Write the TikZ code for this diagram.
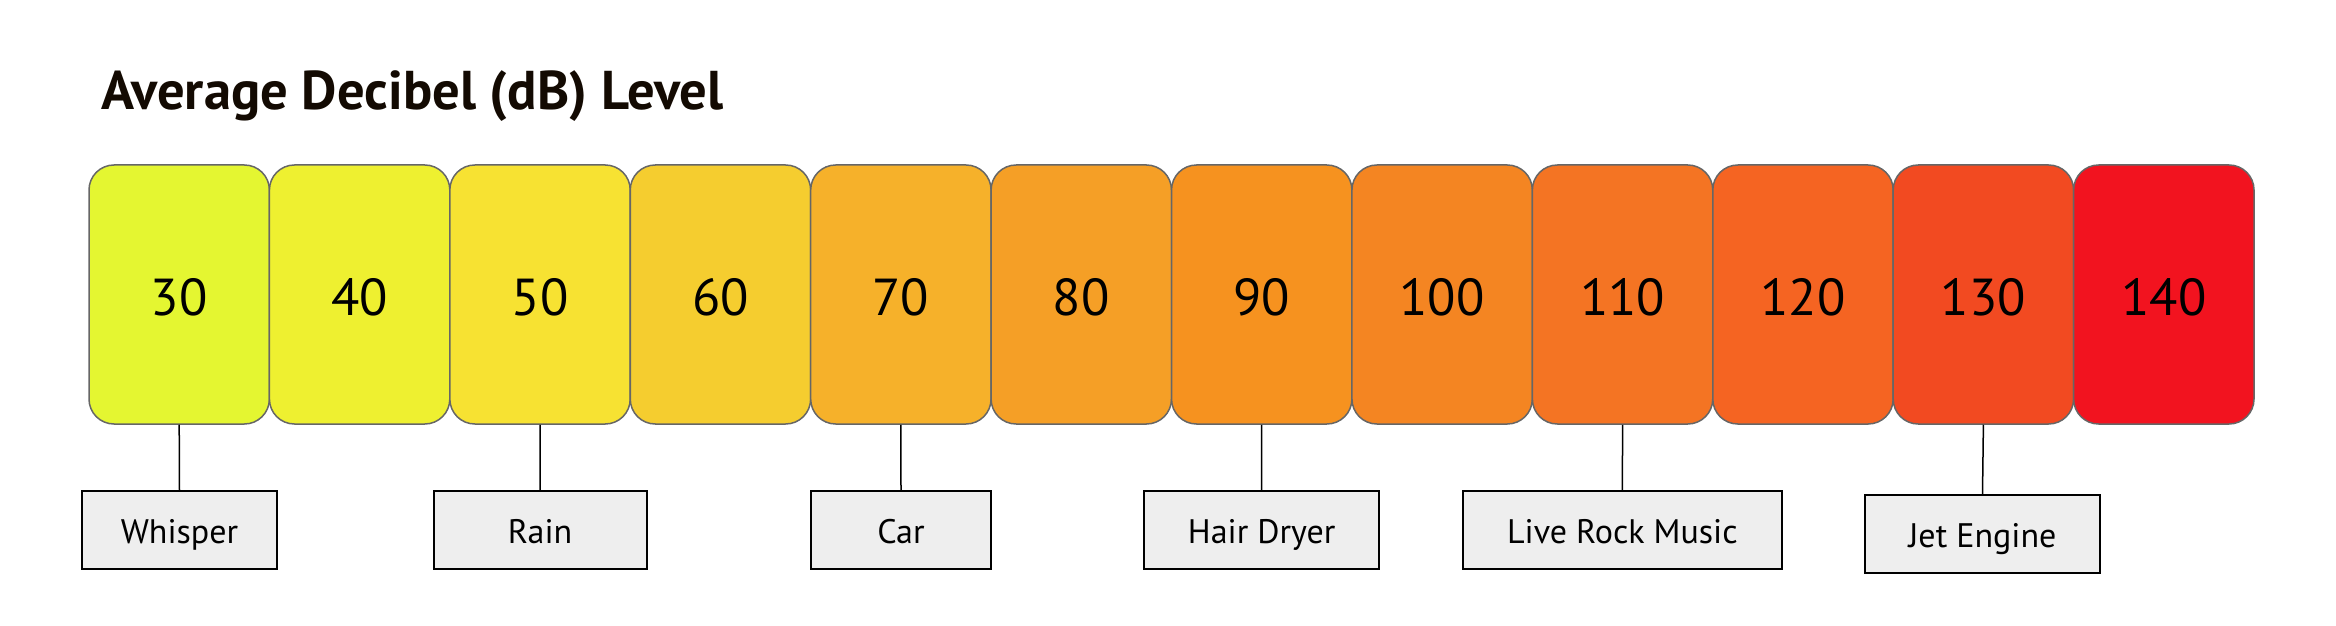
\documentclass[tikz,border=0pt]{standalone}
\usepackage{fontspec}
\setmainfont{PT Sans}
\usepackage{tikz}

\definecolor{lvl30}{HTML}{E4F631}
\definecolor{lvl40}{HTML}{EEF030}
\definecolor{lvl50}{HTML}{F7E232}
\definecolor{lvl60}{HTML}{F5CD2F}
\definecolor{lvl70}{HTML}{F6B12A}
\definecolor{lvl80}{HTML}{F59F26}
\definecolor{lvl90}{HTML}{F6921F}
\definecolor{lvl100}{HTML}{F48522}
\definecolor{lvl110}{HTML}{F47423}
\definecolor{lvl120}{HTML}{F56422}
\definecolor{lvl130}{HTML}{F24A21}
\definecolor{lvl140}{HTML}{F2131F}
\definecolor{titlecol}{HTML}{130A02}
\definecolor{labelfill}{HTML}{EEEEEE}
\definecolor{edgegray}{HTML}{666666}

\tikzset{
    levelbox/.style={draw=edgegray, line width=0.75pt, rounded corners=12.5pt, minimum width=90.2pt, minimum height=129.5pt, inner sep=0pt, text height=23pt, text depth=2.5pt, font=\fontsize{26}{30}\selectfont},
    sourcebox/.style={draw=black, line width=1pt, fill=labelfill, minimum height=39pt, inner sep=0pt, text height=15.5pt, text depth=2.5pt, font=\fontsize{17}{20}\selectfont},
}

\begin{document}
\begin{tikzpicture}[x=0.5pt, y=-0.5pt]
            \useasboundingbox (0,0) rectangle (2336,626);

            % Title
            \node[anchor=base west, inner sep=0pt, text=titlecol, font=\bfseries\fontsize{27.3}{32}\selectfont] (title) at (101,110) {Average Decibel (dB) Level};

            % Row of level boxes
            \foreach \v [count=\i from 0] in {30,40,50,60,70,80,90,100,110,120,130,140} {
                \node[levelbox, fill=lvl\v] (b\v) at ({179.2 + 180.42 * \i}, 294.5) {\v};
            }

            % Sound sources
            \node[sourcebox, minimum width=97.5pt] (whisper) at (179.5,530) {Whisper};
            \node[sourcebox, minimum width=106.5pt] (rain) at (540,530) {Rain};
            \node[sourcebox, minimum width=90pt] (car) at (901,530) {Car};
            \node[sourcebox, minimum width=117.5pt] (dryer) at (1261.7,530) {Hair Dryer};
            \node[sourcebox, minimum width=159.5pt] (rock) at (1622.4,530) {Live Rock Music};
            \node[sourcebox, minimum width=117.5pt] (jet) at (1982.5,534) {Jet Engine};

            \draw[line width=0.75pt](b30.south) -- (whisper.north);
            \draw[line width=0.75pt](b50.south) -- (rain.north);
            \draw[line width=0.75pt](b70.south) -- (car.north);
            \draw[line width=0.75pt](b90.south) -- (dryer.north);
            \draw[line width=0.75pt](b110.south) -- (rock.north);
            \draw[line width=0.75pt](b130.south) -- (jet.north);
        \end{tikzpicture}
\end{document}
